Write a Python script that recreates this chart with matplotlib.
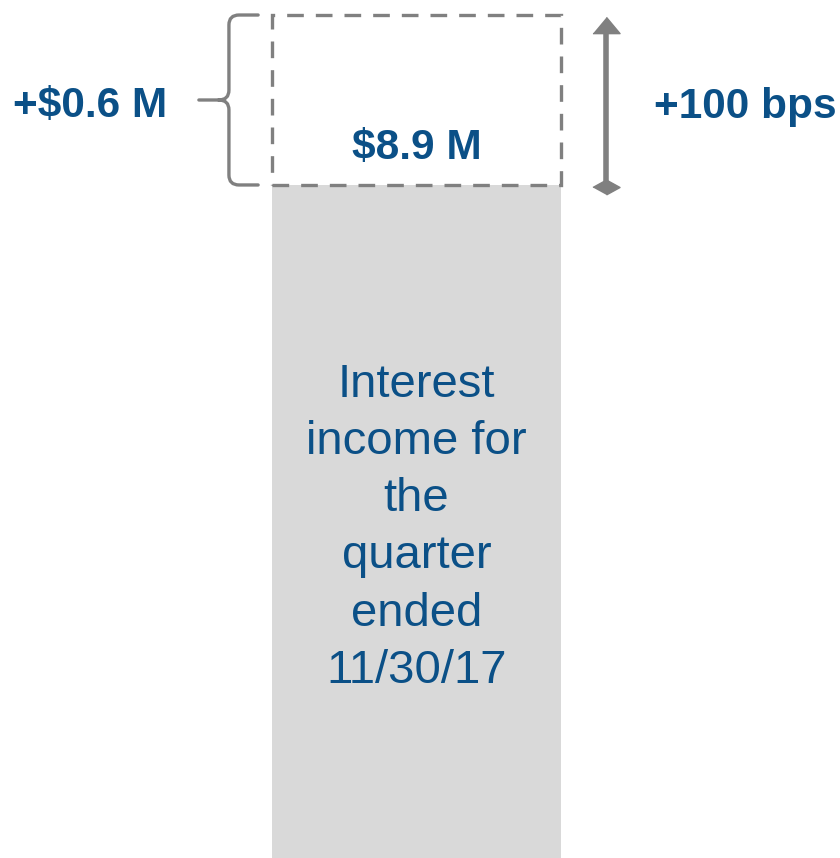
import matplotlib.pyplot as plt
from matplotlib.path import Path
import matplotlib.patches as patches

plt.rcParams['font.family'] = ['Liberation Sans', 'DejaVu Sans']

# data ($ M)
base_income = 8.3
increase = 0.6
total_income = 8.9
bps_label = '+100 bps'
bar_label = 'Interest\nincome for\nthe\nquarter\nended\n11/30/17'

text_color = '#0b5087'
gray = '#808080'
bar_color = '#d9d9d9'

fig = plt.figure(figsize=(8.4, 8.58), dpi=100)
ax = fig.add_axes([0, 0, 1, 1])
ax.set_xlim(-1.441, 1.465)
ax.set_ylim(5.924, 8.953)
ax.axis('off')

# gray bar (truncated at the bottom)
ax.bar(0, base_income, width=1, color=bar_color, zorder=1)

# dashed box for the increase
top = base_income + increase
box = patches.Rectangle((-0.5, base_income), 1, increase, fill=False,
                        edgecolor=gray, linewidth=2.4, linestyle=(0, (5, 3.6)),
                        zorder=3)
ax.add_patch(box)

# brace on the left
x_end, x_mid, x_tip = -0.548, -0.649, -0.753
r = 0.035
mid = (base_income + top) / 2
verts = [
    (x_end, top), (x_mid + r, top),
    (x_mid, top), (x_mid, top - r),
    (x_mid, mid + r),
    (x_mid, mid), (x_mid - r, mid),
    (x_tip, mid),
    (x_mid - r, mid),
    (x_mid, mid), (x_mid, mid - r),
    (x_mid, base_income + r),
    (x_mid, base_income), (x_mid + r, base_income),
    (x_end, base_income),
]
codes = [
    Path.MOVETO, Path.LINETO,
    Path.CURVE3, Path.CURVE3,
    Path.LINETO,
    Path.CURVE3, Path.CURVE3,
    Path.LINETO,
    Path.MOVETO,
    Path.CURVE3, Path.CURVE3,
    Path.LINETO,
    Path.CURVE3, Path.CURVE3,
    Path.LINETO,
]
ax.add_patch(patches.PathPatch(Path(verts, codes), fill=False, edgecolor=gray,
                               linewidth=2.4, capstyle='round', joinstyle='round'))

# double arrow on the right
x_arrow = 0.656
tri = [(-1, -0.6), (1, -0.6), (0, 0.6)]
dia = [(-1, 0), (0, 0.55), (1, 0), (0, -0.55)]
ax.plot([x_arrow, x_arrow], [base_income - 0.007, top - 0.035], color=gray,
        linewidth=4, solid_capstyle='butt')
ax.plot(x_arrow, top - 0.035, marker=tri, markersize=19.5, color=gray, linestyle='none')
ax.plot(x_arrow, base_income - 0.007, marker=dia, markersize=19.5, color=gray, linestyle='none')

# labels
ax.text(-1.13, mid - 0.02, f'+${increase} M', color=text_color, fontsize=30.5,
        fontweight='bold', ha='center', va='center')
ax.text(1.137, mid - 0.025, bps_label, color=text_color, fontsize=30.5,
        fontweight='bold', ha='center', va='center')
ax.text(0, top - 0.47, f'${total_income} M', color=text_color, fontsize=30.5,
        fontweight='bold', ha='center', va='center')
ax.text(0, 7.09, bar_label, color=text_color, fontsize=34,
        ha='center', va='center', linespacing=1.39)

fig.savefig('out.png', dpi=100)
